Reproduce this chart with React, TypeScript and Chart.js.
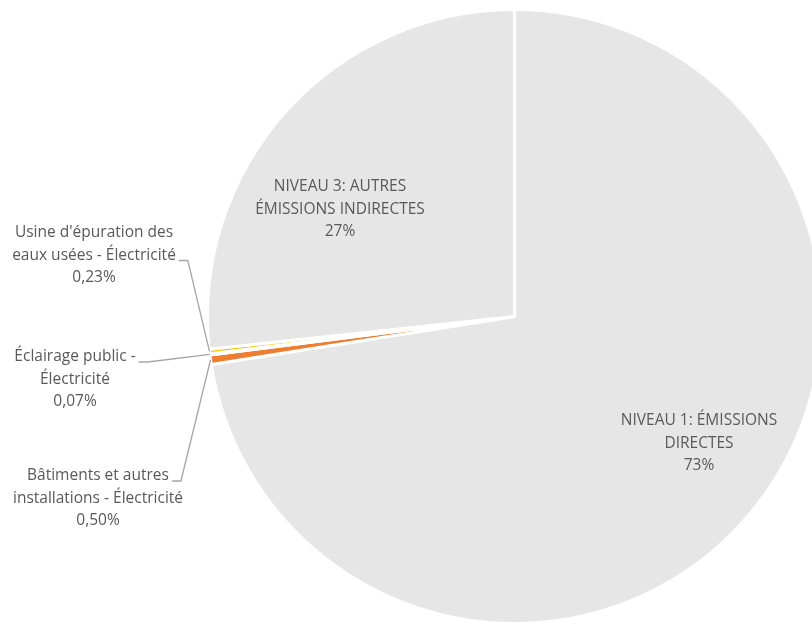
import React, { useEffect, useRef } from "react";
import { Chart, registerables } from "chart.js";

Chart.register(...registerables);

const categories: string[][] = [
  ["NIVEAU 1: ÉMISSIONS", "DIRECTES"],
  ["Bâtiments et autres", "installations - Électricité"],
  ["Éclairage public -", "Électricité"],
  ["Usine d'épuration des", "eaux usées - Électricité"],
  ["NIVEAU 3: AUTRES", "ÉMISSIONS INDIRECTES"],
];
const values: number[] = [72.5, 0.5, 0.07, 0.23, 26.7];
const colors: string[] = ["#e6e6e6", "#ed7d31", "#a5a5a5", "#ffc000", "#e6e6e6"];

// label placement (layout only): centre x, first line y, leader attach line index (-1 = none)
const labelPos = [
  { x: 699, y: 421, leaderLine: -1 },
  { x: 98, y: 476, leaderLine: 0 },
  { x: 75, y: 357, leaderLine: 0 },
  { x: 94, y: 233, leaderLine: 1 },
  { x: 340, y: 187, leaderLine: -1 },
];

const FONT = "15.5px 'Open Sans', sans-serif";
const TEXT_COLOR = "#595959";
const LINE_H = 22.5;

function fmtPct(v: number, total: number): string {
  const p = (v / total) * 100;
  const s = p < 1 ? p.toFixed(2) : Math.round(p).toFixed(0);
  return s.replace(".", ",") + "%";
}

const labelPlugin = {
  id: "pieLabels",
  afterDatasetsDraw(chart: any) {
    const ctx = chart.ctx;
    const meta = chart.getDatasetMeta(0);
    const total = values.reduce((a, b) => a + b, 0);
    ctx.save();
    ctx.font = FONT;
    ctx.fillStyle = TEXT_COLOR;
    ctx.textAlign = "center";
    ctx.textBaseline = "middle";
    meta.data.forEach((arc: any, i: number) => {
      const pos = labelPos[i];
      const lines = [...categories[i], fmtPct(values[i], total)];
      lines.forEach((ln, j) => {
        ctx.fillText(ln, pos.x, pos.y + j * LINE_H);
      });
      if (pos.leaderLine >= 0) {
        const p = arc.getProps(["x", "y", "startAngle", "endAngle", "outerRadius"], true);
        const mid = (p.startAngle + p.endAngle) / 2;
        const ax = p.x + Math.cos(mid) * p.outerRadius;
        const ay = p.y + Math.sin(mid) * p.outerRadius;
        const ln = lines[pos.leaderLine];
        const w = ctx.measureText(ln).width;
        const sx = pos.x + w / 2 + 3;
        const sy = pos.y + pos.leaderLine * LINE_H + 5;
        ctx.beginPath();
        ctx.strokeStyle = "#a6a6a6";
        ctx.lineWidth = 1.3;
        ctx.moveTo(sx, sy);
        ctx.lineTo(sx + 9, sy);
        ctx.lineTo(ax, ay);
        ctx.stroke();
      }
    });
    ctx.restore();
  },
};

export default function App() {
  const ref = useRef<HTMLCanvasElement | null>(null);
  useEffect(() => {
    if (!ref.current) return;
    const chart = new Chart(ref.current, {
      type: "pie",
      data: {
        labels: categories.map((c) => c.join(" ")),
        datasets: [
          {
            data: values,
            backgroundColor: colors,
            borderColor: "#ffffff",
            borderWidth: 3,
          },
        ],
      },
      options: {
        responsive: false,
        animation: false,
        layout: { padding: { left: 206, right: 7, top: 8, bottom: 15 } },
        plugins: {
          legend: { display: false },
          tooltip: { enabled: false },
        },
      },
      plugins: [labelPlugin],
    });
    return () => chart.destroy();
  }, []);
  return (
    <div
      style={{
        position: "absolute",
        left: 0,
        top: 0,
        width: 812,
        height: 625,
        overflow: "hidden",
        background: "#ffffff",
      }}
    >
      <canvas ref={ref} width={830} height={640} style={{ display: "block" }} />
    </div>
  );
}
